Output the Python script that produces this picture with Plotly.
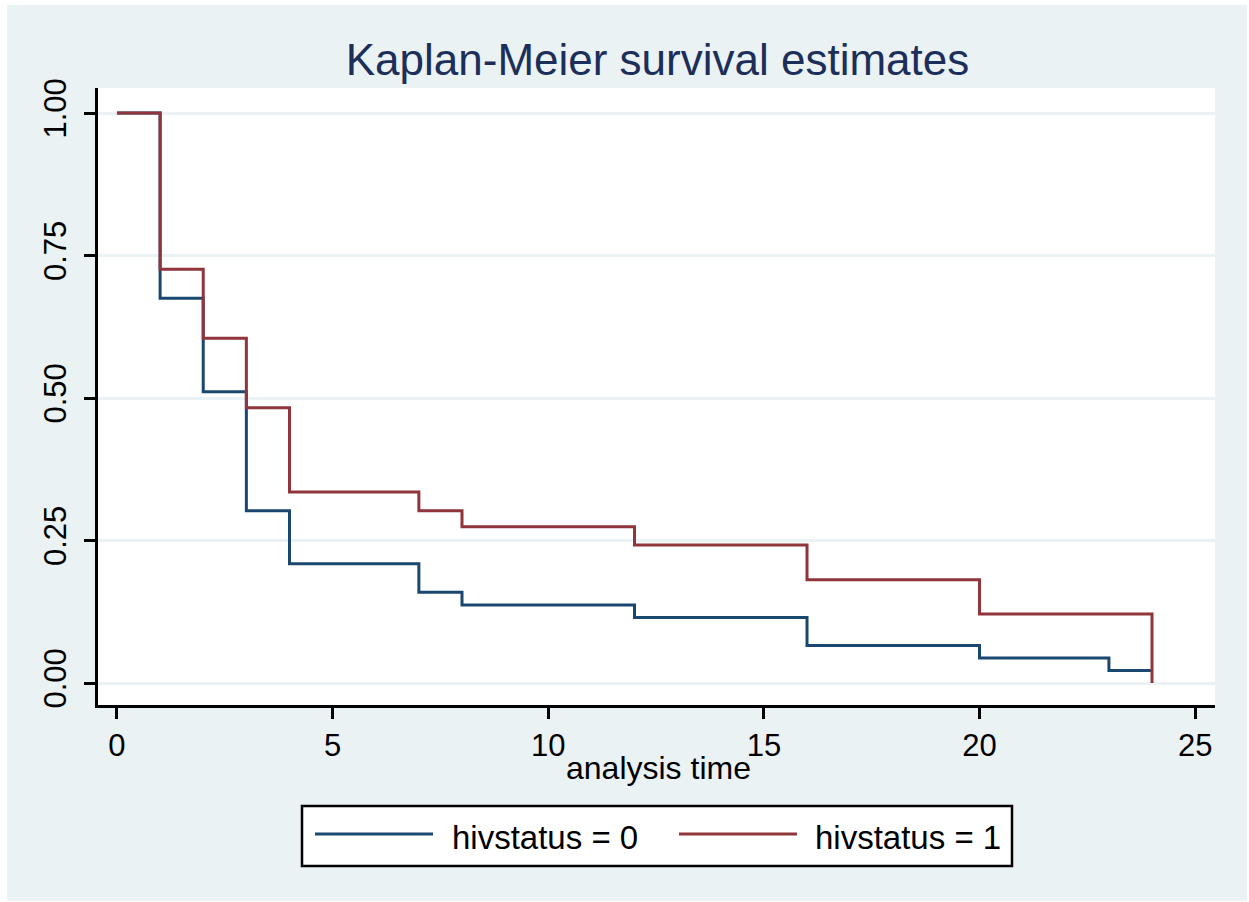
import plotly.graph_objects as go

# Kaplan-Meier step estimates by HIV status
times_hiv0 = [0, 1, 2, 3, 4, 7, 8, 12, 16, 20, 23, 24]
surv_hiv0 = [1.0, 0.675, 0.511, 0.302, 0.209, 0.159, 0.137, 0.115, 0.066, 0.044, 0.022, 0.022]

times_hiv1 = [0, 1, 2, 3, 4, 7, 8, 12, 16, 20, 24]
surv_hiv1 = [1.0, 0.726, 0.605, 0.483, 0.335, 0.302, 0.274, 0.242, 0.181, 0.121, 0.0]

series_names = ["hivstatus = 0", "hivstatus = 1"]
series_colors = ["#1A476F", "#90353B"]

x_ticks = [0, 5, 10, 15, 20, 25]
y_ticks = [0.0, 0.25, 0.5, 0.75, 1.0]

FONT = "Liberation Sans, Arial, Helvetica, sans-serif"
BG = "#EAF2F3"

# page geometry (pixels)
FIG_W, FIG_H = 1249, 902
PL, PR, PT, PB = 98, 1215, 88, 705
PW, PH = PR - PL, PB - PT


def xp(px):
    return (px - PL) / PW


def yp(py):
    return (PB - py) / PH


fig = go.Figure()
for t, s, name, color in zip([times_hiv0, times_hiv1], [surv_hiv0, surv_hiv1],
                             series_names, series_colors):
    fig.add_trace(go.Scatter(
        x=t, y=s, mode="lines", name=name,
        line=dict(color=color, width=3, shape="hv"),
        showlegend=False, hoverinfo="x+y+name",
    ))

shapes = [
    # outer graph region
    dict(type="rect", xref="paper", yref="paper", layer="below",
         x0=xp(7), x1=xp(1247), y0=yp(901), y1=yp(5),
         fillcolor=BG, line=dict(width=0)),
    # plot region
    dict(type="rect", xref="paper", yref="paper", layer="below",
         x0=0, x1=1, y0=0, y1=1, fillcolor="white", line=dict(width=0)),
    # legend box
    dict(type="rect", xref="paper", yref="paper", layer="above",
         x0=xp(302), x1=xp(1012), y0=yp(866), y1=yp(806),
         fillcolor="white", line=dict(color="black", width=2.5)),
]

annotations = [
    # x axis title
    dict(text="analysis time", xref="paper", yref="paper",
         x=xp(658), y=yp(768), xanchor="center", yanchor="middle", showarrow=False,
         font=dict(family=FONT, size=32, color="black")),
]
key_starts = [315, 679]
text_starts = [450, 813]
for name, color, k0, tx in zip(series_names, series_colors, key_starts, text_starts):
    shapes.append(dict(type="line", xref="paper", yref="paper",
                       x0=xp(k0), x1=xp(k0 + 118), y0=yp(834), y1=yp(834),
                       line=dict(color=color, width=3)))
    annotations.append(dict(text=name, xref="paper", yref="paper",
                            x=xp(tx), y=yp(837), xanchor="left", yanchor="middle",
                            showarrow=False,
                            font=dict(family=FONT, size=33, color="black")))

fig.update_layout(
    width=FIG_W, height=FIG_H,
    margin=dict(l=PL, r=FIG_W - PR, t=PT, b=FIG_H - PB),
    paper_bgcolor="white", plot_bgcolor="rgba(0,0,0,0)",
    font=dict(family=FONT, size=31, color="black"),
    title=dict(text="Kaplan-Meier survival estimates", xref="container", yref="container",
               x=657.5 / FIG_W, y=1 - 60 / FIG_H, xanchor="center", yanchor="middle",
               font=dict(family=FONT, size=44, color="#1C2E5A")),
    shapes=shapes, annotations=annotations,
    showlegend=False,
)

fig.update_xaxes(
    range=[-0.44, 25.46], tickmode="array", tickvals=x_ticks,
    showgrid=False, zeroline=False,
    showline=True, linecolor="black", linewidth=3,
    ticks="outside", ticklen=11, tickwidth=2.5, tickcolor="black",
    tickfont=dict(family=FONT, size=31, color="black"),
)

fig.update_yaxes(
    range=[-0.0386, 1.0439], tickmode="array", tickvals=y_ticks,
    tickformat=".2f", tickangle=-90,
    showgrid=True, gridcolor=BG, gridwidth=2.5, zeroline=False,
    showline=True, linecolor="black", linewidth=3,
    ticks="outside", ticklen=11, tickwidth=2.5, tickcolor="black",
    tickfont=dict(family=FONT, size=31, color="black"),
    ticklabelstandoff=6,
)

fig.write_html("out.html")
